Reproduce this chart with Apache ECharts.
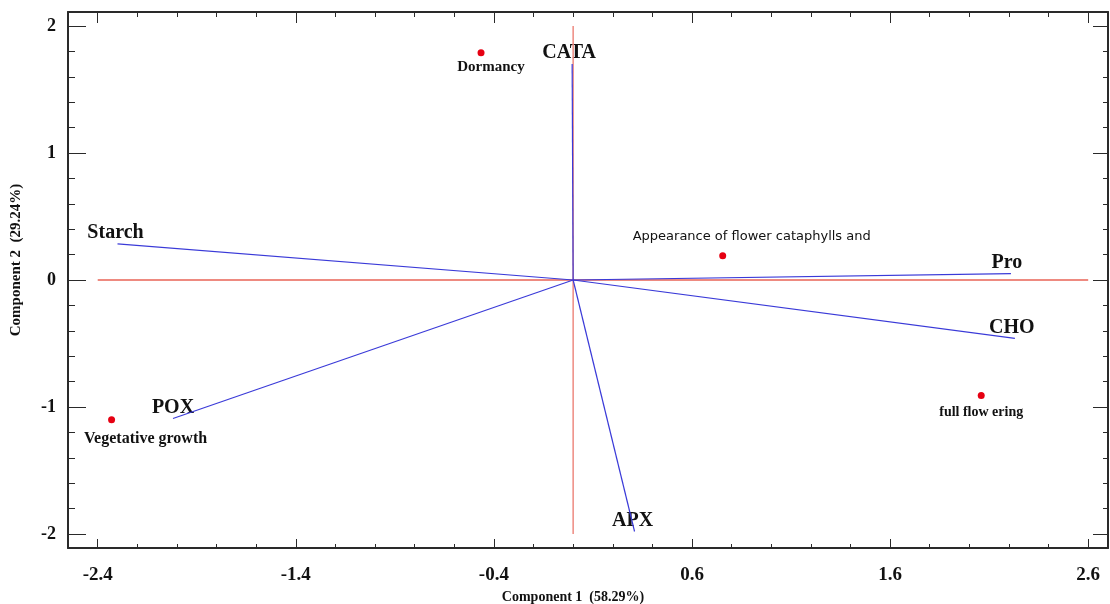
<!DOCTYPE html>
<html>
<head>
<meta charset="utf-8">
<script src="https://cdn.jsdelivr.net/npm/echarts@6/dist/echarts.min.js"></script>
<style>
html,body{margin:0;padding:0;background:#fff;}
#chart{width:1110px;height:604px;}
</style>
</head>
<body>
<div id="chart"></div>
<script>
// ---- data ----
const vectorNames = ['CATA', 'Starch', 'Pro', 'CHO', 'APX', 'POX'];
const vectorX = [-0.005, -2.30, 2.21, 2.23, 0.31, -2.02];
const vectorY = [1.70, 0.285, 0.05, -0.46, -1.98, -1.09];

const pointNames = ['Dormancy', 'Appearance of flower cataphylls and', 'full flow ering', 'Vegetative growth'];
const pointX = [-0.465, 0.755, 2.06, -2.33];
const pointY = [1.79, 0.19, -0.91, -1.10];

const xTickLabels = [-2.4, -1.4, -0.4, 0.6, 1.6, 2.6];
const yTickLabels = [-2, -1, 0, 1, 2];

// ---- styles ----
const SERIF = '"Liberation Serif", "DejaVu Serif", serif';
const AXIS_COLOR = '#2a2a2a';
const VEC_COLOR = '#3a3ad8';
const REF_COLOR = '#ee8a80';
const TEXT = '#111';

const pointLabelStyle = {
  'Dormancy': { offset: [10, 14], fontFamily: SERIF, fontWeight: 'bold', fontSize: 15 },
  'Appearance of flower cataphylls and': { offset: [29, -19], fontFamily: '"DejaVu Sans", sans-serif', fontSize: 13, fontWeight: 'normal' },
  'full flow ering': { offset: [0, 17], fontFamily: SERIF, fontWeight: 'bold', fontSize: 14 },
  'Vegetative growth': { offset: [34, 19], fontFamily: SERIF, fontWeight: 'bold', fontSize: 16 }
};
const vectorLabelOffset = {
  'CATA': [-3, 0], 'Starch': [-2, 0], 'Pro': [-4, 0], 'CHO': [-3, 0], 'APX': [-2, 0], 'POX': [0, 0]
};

function minors(lo, hi, step, majors) {
  const out = [];
  for (let i = 0; lo + i * step <= hi + 1e-9; i++) {
    const v = Math.round((lo + i * step) * 100) / 100;
    if (!majors.some(m => Math.abs(m - v) < 1e-6)) out.push(v);
  }
  return out;
}
const xMinor = minors(-2.4, 2.6, 0.2, xTickLabels);
const yMinor = minors(-2, 2, 0.2, yTickLabels);

const XMIN = -2.55, XMAX = 2.7, YMIN = -2.11, YMAX = 2.11;

function xAx(pos, ticks, len, showLine, showLabel, extra) {
  return Object.assign({
    type: 'value', position: pos, min: XMIN, max: XMAX,
    axisLine: { show: showLine, onZero: false, lineStyle: { color: AXIS_COLOR, width: 2 } },
    axisTick: { show: true, inside: true, length: len, customValues: ticks, lineStyle: { color: AXIS_COLOR, width: 1 } },
    axisLabel: showLabel ? { show: true, customValues: ticks, margin: 18, fontFamily: SERIF, fontWeight: 'bold', fontSize: 19, color: TEXT, formatter: v => String(v) } : { show: false },
    splitLine: { show: false }
  }, extra || {});
}
function yAx(pos, ticks, len, showLine, showLabel, extra) {
  return Object.assign({
    type: 'value', position: pos, min: YMIN, max: YMAX,
    axisLine: { show: showLine, onZero: false, lineStyle: { color: AXIS_COLOR, width: 2 } },
    axisTick: { show: true, inside: true, length: len, customValues: ticks, lineStyle: { color: AXIS_COLOR, width: 1 } },
    axisLabel: showLabel ? { show: true, customValues: ticks, margin: 12, fontFamily: SERIF, fontWeight: 'bold', fontSize: 18, color: TEXT, formatter: v => String(v) } : { show: false },
    splitLine: { show: false }
  }, extra || {});
}

const series = [];
// reference lines
series.push({
  type: 'line', xAxisIndex: 0, yAxisIndex: 0, symbol: 'none', silent: true,
  data: [[xTickLabels[0], 0], [xTickLabels[xTickLabels.length - 1], 0]],
  lineStyle: { color: REF_COLOR, width: 2 }
});
series.push({
  type: 'line', xAxisIndex: 0, yAxisIndex: 0, symbol: 'none', silent: true,
  data: [[0, yTickLabels[0]], [0, yTickLabels[yTickLabels.length - 1]]],
  lineStyle: { color: REF_COLOR, width: 1.5 }
});
// vectors
vectorNames.forEach((n, i) => {
  series.push({
    type: 'line', name: n, xAxisIndex: 0, yAxisIndex: 0, symbol: 'none', silent: true,
    data: [[0, 0], [vectorX[i], vectorY[i]]],
    lineStyle: { color: VEC_COLOR, width: 1.2 }
  });
});
// vector labels
series.push({
  type: 'scatter', xAxisIndex: 0, yAxisIndex: 0, symbolSize: 0, silent: true,
  itemStyle: { opacity: 1 },
  data: vectorNames.map((n, i) => ({ name: n, value: [vectorX[i], vectorY[i]], label: { offset: vectorLabelOffset[n] } })),
  label: { show: true, position: 'top', distance: 1, formatter: p => p.name, fontFamily: SERIF, fontWeight: 'bold', fontSize: 20, color: TEXT }
});
// observation points
series.push({
  type: 'scatter', xAxisIndex: 0, yAxisIndex: 0, symbol: 'circle', symbolSize: 7, silent: true,
  itemStyle: { color: '#e60012', opacity: 1 },
  data: pointNames.map((n, i) => ({
    name: n, value: [pointX[i], pointY[i]],
    label: Object.assign({ show: true, position: 'inside', color: TEXT, formatter: p => p.name }, pointLabelStyle[n])
  }))
});

const chart = echarts.init(document.getElementById('chart'), null, { renderer: 'canvas' });
chart.setOption({
  animation: false,
  backgroundColor: '#fff',
  grid: { left: 68, right: 2, top: 12, bottom: 56, containLabel: false, outerBoundsMode: 'none' },
  xAxis: [
    xAx('bottom', xTickLabels, 9, true, true, {
      name: 'Component 1  (58.29%)', nameLocation: 'middle', nameGap: 41,
      nameTextStyle: { fontFamily: SERIF, fontWeight: 'bold', fontSize: 14, color: TEXT, padding: [0, 30, 0, 0] }
    }),
    xAx('bottom', xMinor, 4, false, false),
    xAx('top', xTickLabels, 11, true, false),
    xAx('top', xMinor, 5, false, false)
  ],
  yAxis: [
    yAx('left', yTickLabels, 18, true, true, {
      name: 'Component 2  (29.24%)', nameLocation: 'middle', nameGap: 44, nameRotate: 90,
      nameTextStyle: { fontFamily: SERIF, fontWeight: 'bold', fontSize: 15, color: TEXT, padding: [0, 0, 0, 40] }
    }),
    yAx('left', yMinor, 7, false, false),
    yAx('right', yTickLabels, 15, true, false),
    yAx('right', yMinor, 5, false, false)
  ],
  series: series
});
</script>
</body>
</html>
